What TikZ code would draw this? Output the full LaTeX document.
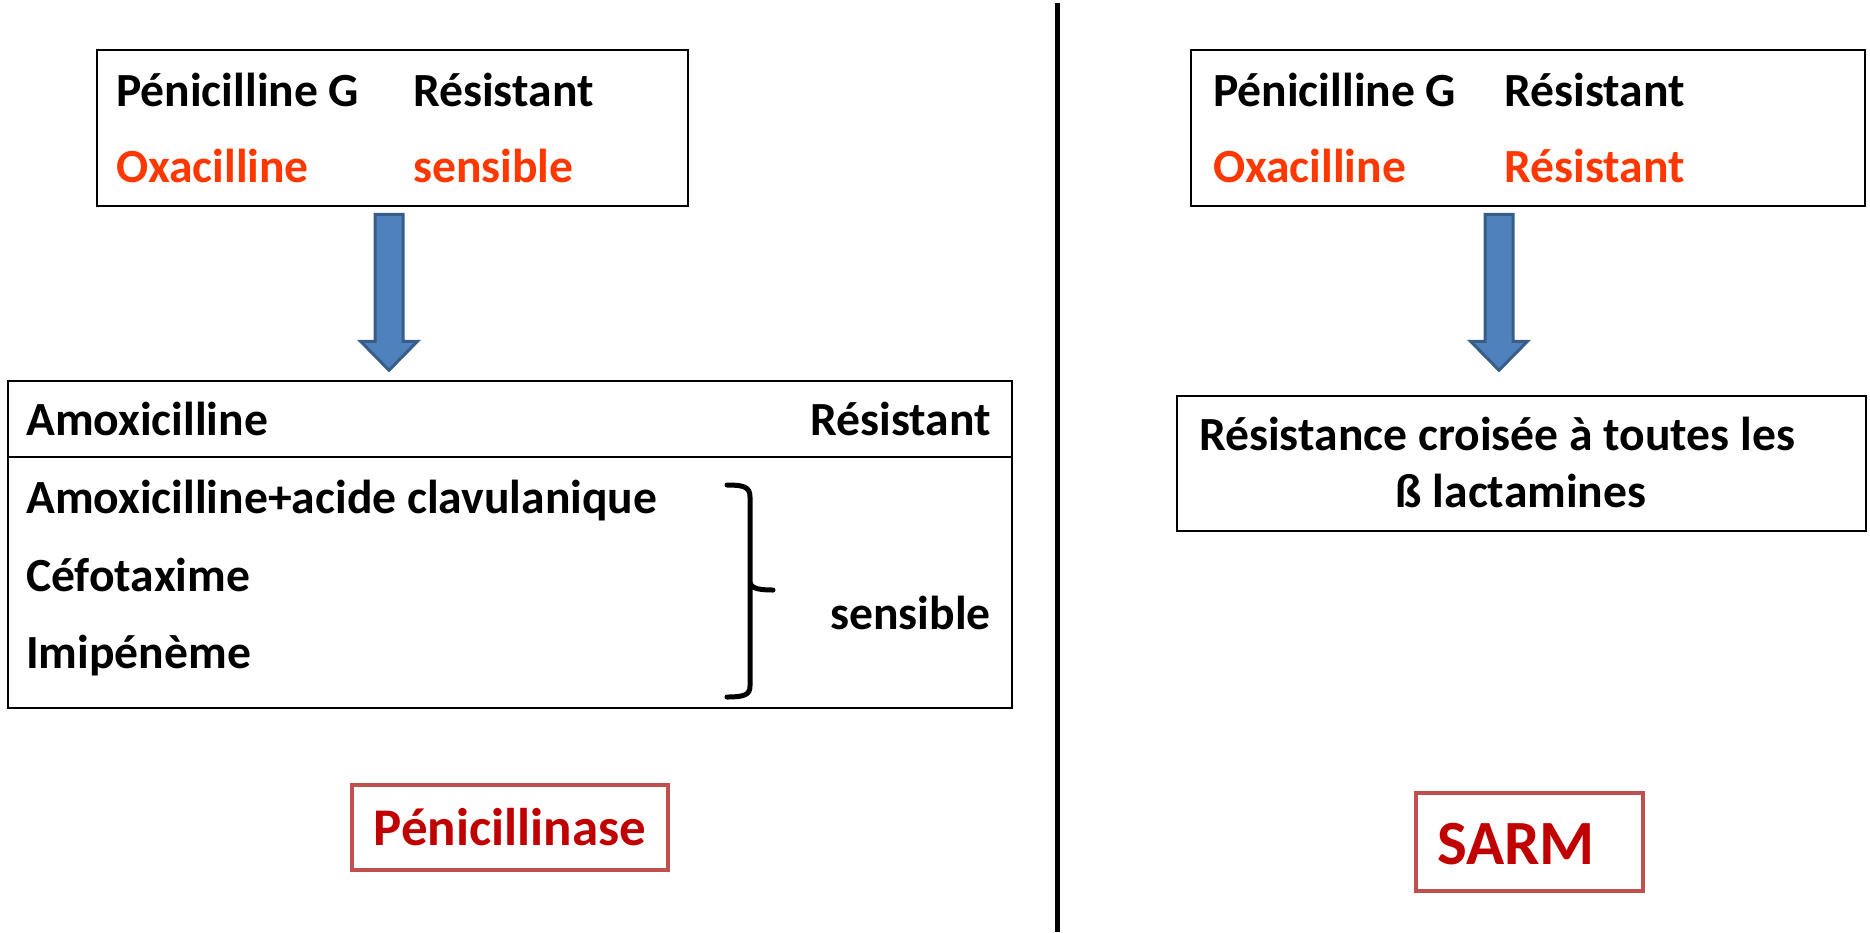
\documentclass[tikz,border=0pt]{standalone}
\usepackage{fontspec}
\setmainfont{Carlito}
\usetikzlibrary{calc}
\definecolor{oxred}{RGB}{255,55,0}
\definecolor{darkred}{RGB}{192,0,0}
\definecolor{boxred}{RGB}{192,80,77}
\definecolor{arrowfill}{RGB}{79,129,189}
\definecolor{arrowdraw}{RGB}{56,93,138}
\tikzset{
  frame/.style={draw=black, line width=2.5pt, rectangle, inner sep=0pt},
  redframe/.style={draw=boxred, line width=4.5pt, rectangle, inner sep=0pt, text=darkred, font=\bfseries},
  txt/.style={inner sep=0pt, anchor=base west, font=\fontsize{47.6}{56}\selectfont\bfseries},
  txtr/.style={txt, anchor=base east},
  blockarrow/.style={fill=arrowfill, draw=arrowdraw, line width=3pt, line join=miter},
}
% block arrow from node #1 towards node #2, shifted horizontally by #3
\newcommand\bigarrow[3]{%
  \path let \p1=($(#1.south)+(#3,0)$) in
    coordinate (#1-a1) at (\x1-14pt, \y1-7pt)
    coordinate (#1-a2) at (\x1+14pt, \y1-7pt)
    coordinate (#1-a3) at (\x1+14pt, \y1-134pt)
    coordinate (#1-a4) at (\x1+28.5pt, \y1-134pt)
    coordinate (#1-a5) at (\x1, \y1-163pt)
    coordinate (#1-a6) at (\x1-28.5pt, \y1-134pt)
    coordinate (#1-a7) at (\x1-14pt, \y1-134pt);
  \draw[blockarrow] (#1-a1) -- (#1-a2) -- (#1-a3) -- (#1-a4) -- (#1-a5) -- (#1-a6) -- (#1-a7) -- cycle;
}
\begin{document}
\begin{tikzpicture}[x=1pt,y=-1pt]
\useasboundingbox (0,0) rectangle (1870,932);
% divider
\draw[line width=5pt] (1057,3) -- (1057,932);
% ---------- left side ----------
\node[frame, minimum width=591pt, minimum height=156pt] (tl) at (392.5,128) {};
\node[txt] (tl1) at (116,106) {Pénicilline G};
\node[txt] (tl2) at (413,106) {Résistant};
\node[txt, text=oxred] (tl3) at (116,182) {Oxacilline};
\node[txt, text=oxred] (tl4) at (413,182) {sensible};

\node[frame, minimum width=1004pt, minimum height=327pt] (big) at (510,544.5) {};
\draw[line width=2.5pt] (big.west |- 0,457) coordinate (dl) -- (big.east |- 0,457) coordinate (dr);
\node[txt] (b1) at (26,435) {Amoxicilline};
\node[txtr] (b2) at (991,435) {Résistant};
\node[txt] (b3) at (26,513) {Amoxicilline+acide clavulanique};
\node[txt] (b4) at (26,591) {Céfotaxime};
\node[txt] (b5) at (26,668) {Imipénème};
\node[txtr] (b6) at (991,629) {sensible};
\draw[line width=5pt, line cap=round] (727,485) .. controls (744,485) and (750,487) .. (750,497) -- (750,580)
  .. controls (750,587) and (754,590) .. (773,590)
  (750,580) .. controls (750,593) and (750,591) .. (750,600) -- (750,686)
  .. controls (750,695) and (744,697) .. (727,697);

\bigarrow{tl}{big}{-3.5pt}

\node[redframe, minimum width=316pt, minimum height=85pt] (pen) at (510,827.5) {};
\node[txt, anchor=base, text=darkred, font=\fontsize{53}{62}\selectfont\bfseries] (pent) at (510,845) {Pénicillinase};

% ---------- right side ----------
\node[frame, minimum width=674pt, minimum height=156pt] (tr) at (1528,128) {};
\node[txt] (tr1) at (1213,106) {Pénicilline G};
\node[txt] (tr2) at (1504,106) {Résistant};
\node[txt, text=oxred] (tr3) at (1213,182) {Oxacilline};
\node[txt, text=oxred] (tr4) at (1504,182) {Résistant};

\node[frame, minimum width=689pt, minimum height=135pt] (mid) at (1521.5,463.5) {};
\node[txt] (m1) at (1199,450) {Résistance croisée à toutes les};
\node[txt, anchor=base] (m2) at (1521,507) {ß lactamines};

\bigarrow{tr}{mid}{-29pt}

\node[redframe, minimum width=227pt, minimum height=98pt] (sarm) at (1529.5,842) {};
\node[txt, anchor=base west, text=darkred, font=\fontsize{63}{74}\selectfont\bfseries] (sarmt) at (1437,864) {SARM};
\end{tikzpicture}
\end{document}
